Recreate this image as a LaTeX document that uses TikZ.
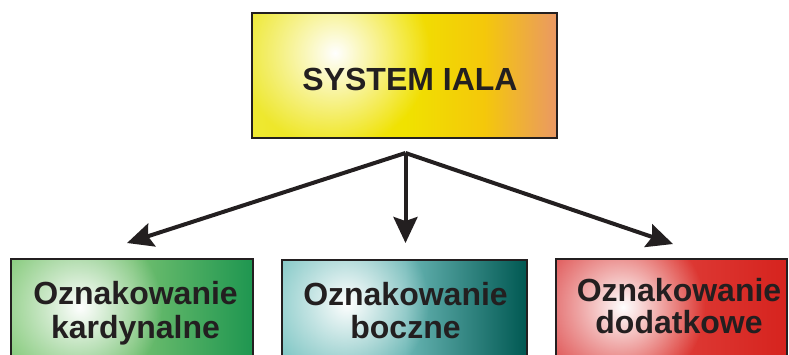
\documentclass[tikz,border=0pt]{standalone}
\usepackage{fontspec}
\setmainfont{Liberation Sans}
\usetikzlibrary{arrows.meta,fadings,calc}
\definecolor{ink}{RGB}{35,31,32}
\definecolor{ya1}{RGB}{238,232,50}
\definecolor{ya2}{RGB}{240,226,0}
\definecolor{ya3}{RGB}{244,200,10}
\definecolor{ya4}{RGB}{234,152,100}
\definecolor{ga1}{RGB}{140,205,130}
\definecolor{ga2}{RGB}{115,192,112}
\definecolor{ga3}{RGB}{30,150,80}
\definecolor{ta1}{RGB}{130,200,198}
\definecolor{ta2}{RGB}{105,182,180}
\definecolor{ta3}{RGB}{0,88,82}
\definecolor{ra1}{RGB}{225,95,95}
\definecolor{ra2}{RGB}{222,60,55}
\definecolor{ra3}{RGB}{214,35,30}
\pgfdeclarehorizontalshading{ialashade}{100bp}{color(0bp)=(ya1); color(25bp)=(ya1); color(50bp)=(ya2); color(63bp)=(ya3); color(75bp)=(ya4); color(100bp)=(ya4)}
\pgfdeclarehorizontalshading{greenshade}{100bp}{color(0bp)=(ga1); color(25bp)=(ga1); color(50bp)=(ga2); color(75bp)=(ga3); color(100bp)=(ga3)}
\pgfdeclarehorizontalshading{tealshade}{100bp}{color(0bp)=(ta1); color(25bp)=(ta1); color(50bp)=(ta2); color(75bp)=(ta3); color(100bp)=(ta3)}
\pgfdeclarehorizontalshading{redshade}{100bp}{color(0bp)=(ra1); color(25bp)=(ra1); color(50bp)=(ra2); color(75bp)=(ra3); color(100bp)=(ra3)}
\tikzfading[name=glow, inner color=transparent!0, outer color=transparent!100]
\tikzset{
  panel/.style={draw=ink, line width=2.2pt, rectangle, inner sep=0pt},
  glowfill/.style n args={3}{path picture={
      \shade[shading=#1] (path picture bounding box.south west) rectangle (path picture bounding box.north east);
      \fill[white, path fading=glow] ($(path picture bounding box.north west)+(#2)$) circle (#3);
  }},
  lbl/.style={font=\fontsize{32}{34}\selectfont\bfseries, text=ink, inner sep=0pt, anchor=base},
  arrow/.style={draw=ink, line width=4pt, -{Stealth[length=26pt,width=24pt,inset=4pt]}}
}
\begin{document}
\begin{tikzpicture}[x=1pt,y=-1pt]
\useasboundingbox (0,0) rectangle (789,354);
\clip (0,0) rectangle (789,354);
\node[panel, minimum width=305pt, minimum height=125pt, glowfill={ialashade}{83,40}{95}] (iala) at (404.5,75.5) {};
\node[panel, minimum width=242pt, minimum height=142pt, glowfill={greenshade}{69,48}{82}] (kard) at (132,330) {};
\node[panel, minimum width=245pt, minimum height=142pt, glowfill={tealshade}{65,43}{82}] (bocz) at (404.5,331) {};
\node[panel, minimum width=231pt, minimum height=142pt, glowfill={redshade}{67,48}{82}] (dod) at (671.5,330) {};
\node[lbl] (t0) at (410,90) {SYSTEM IALA};
\node[lbl] (k1) at (135.5,304) {Oznakowanie};
\node[lbl] (k2) at (135.5,338) {kardynalne};
\node[lbl] (b1) at (405.5,305) {Oznakowanie};
\node[lbl] (b2) at (405.5,338) {boczne};
\node[lbl] (d1) at (679,301) {Oznakowanie};
\node[lbl] (d2) at (679,333) {dodatkowe};
\coordinate (hub) at (405.5,153);
\coordinate (tipL) at (127,243);
\coordinate (tipM) at (405.5,243);
\coordinate (tipR) at (673,244);
\draw[arrow] (hub) -- (tipL);
\draw[arrow] (hub) -- (tipM);
\draw[arrow] (hub) -- (tipR);
\end{tikzpicture}
\end{document}
